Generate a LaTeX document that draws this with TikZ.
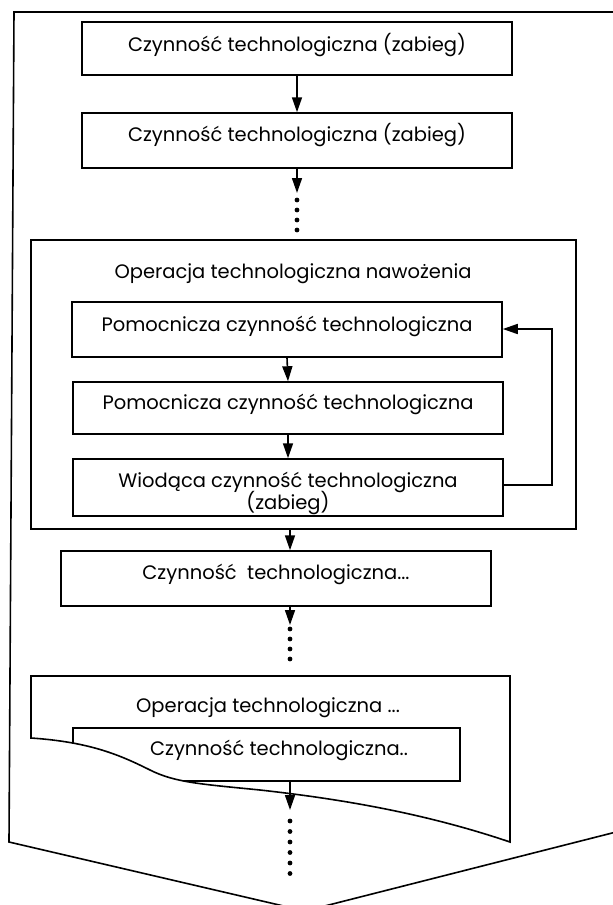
\documentclass[tikz,border=0pt]{standalone}
\usepackage{fontspec}
\setmainfont{Poppins}
\usetikzlibrary{arrows.meta}
\tikzset{
  box/.style={draw, line width=1.5pt, rectangle, inner sep=0pt, fill=white},
  txt/.style={inner sep=0pt, anchor=base, font=\fontsize{19.5}{23}\selectfont},
  arr/.style={line width=1.6pt, -{Triangle[length=15pt,width=10pt]}},
  conn/.style={line width=1.5pt},
  dot/.style={fill=black, circle, inner sep=0pt, minimum size=4.8pt},
  outline/.style={line width=1.6pt}
}
\begin{document}
\begin{tikzpicture}[x=1pt,y=-1pt]
\useasboundingbox (0,0) rectangle (613,905);
\clip (0,0) rectangle (613,905);
% outer frame
\draw[outline, line join=miter] (620,12) -- (14,12) -- (9,842) -- (305,911) -- (620,831);
% top boxes
\node[box, minimum width=430pt, minimum height=53pt] (b1) at (297,48.5) {};
\node[txt] (t1) at (297,51) {Czynność technologiczna (zabieg)};
\node[box, minimum width=430pt, minimum height=55pt] (b2) at (297,140.5) {};
\node[txt] (t2) at (297,141) {Czynność technologiczna (zabieg)};
\draw[arr] (b1.south) -- (b2.north);
\coordinate (d0) at (297,193);
\draw[arr] (b2.south) -- (d0);
\foreach \yy in {200,210,220,230} \node[dot] at (297,\yy) {};
% operation box
\node[box, minimum width=545pt, minimum height=289pt] (op) at (303.5,384.5) {};
\node[txt] (opt) at (293,278) {Operacja technologiczna nawożenia};
\node[box, minimum width=430pt, minimum height=55pt] (in1) at (287,329.5) {};
\node[txt] (it1) at (287,331) {Pomocnicza czynność technologiczna};
\node[box, minimum width=430pt, minimum height=52pt] (in2) at (288,408) {};
\node[txt] (it2) at (288,409) {Pomocnicza czynność technologiczna};
\node[box, minimum width=430pt, minimum height=57pt] (in3) at (288,487.5) {};
\node[txt] (it3) at (288,487) {Wiodąca czynność technologiczna};
\node[txt] (it3b) at (288,509) {(zabieg)};
\draw[arr] (in1.south) -- (in2.north);
\draw[arr] (in2.south) -- (in3.north);
\coordinate (fb1) at (552,485);
\coordinate (fb2) at (552,329);
\draw[arr, line join=miter] (in3.east |- fb1) -- (fb1) -- (fb2) -- (in1.east |- fb2);
% next box
\node[box, minimum width=430pt, minimum height=55pt] (b4) at (276,578.5) {};
\node[txt] (t4) at (276,579) {Czynność\ \ technologiczna...};
\coordinate (ax) at (290,0);
\draw[arr] (op.south -| ax) -- (b4.north -| ax);
\coordinate (d1) at (290,625);
\draw[arr] (b4.south -| ax) -- (d1);
\foreach \yy in {629,639,649,659} \node[dot] at (290,\yy) {};
% second operation (torn bottom)
\def\oppath{(31,738) -- (31,676) -- (510,676) -- (510,842) .. controls (430,815) and (350,800) .. (260,790) .. controls (200,784) and (175,782.5) .. (150,770) .. controls (120,755) and (90,742) .. (31,738) -- cycle}
\fill[white] \oppath;
\begin{scope}
\clip \oppath;
\node[box, minimum width=387pt, minimum height=53pt] (in4) at (266.5,754.5) {};
\end{scope}
\draw[outline, line join=miter] \oppath;
\node[txt] (op2t) at (268,712) {Operacja technologiczna ...};
\node[txt] (it4) at (279,755) {Czynność technologiczna..};
\coordinate (d2) at (290,810);
\draw[arr] (in4.south -| ax) -- (d2);
\foreach \yy in {821,831.5,842,852.5,863,873.5} \node[dot] at (290,\yy) {};
\end{tikzpicture}
\end{document}
